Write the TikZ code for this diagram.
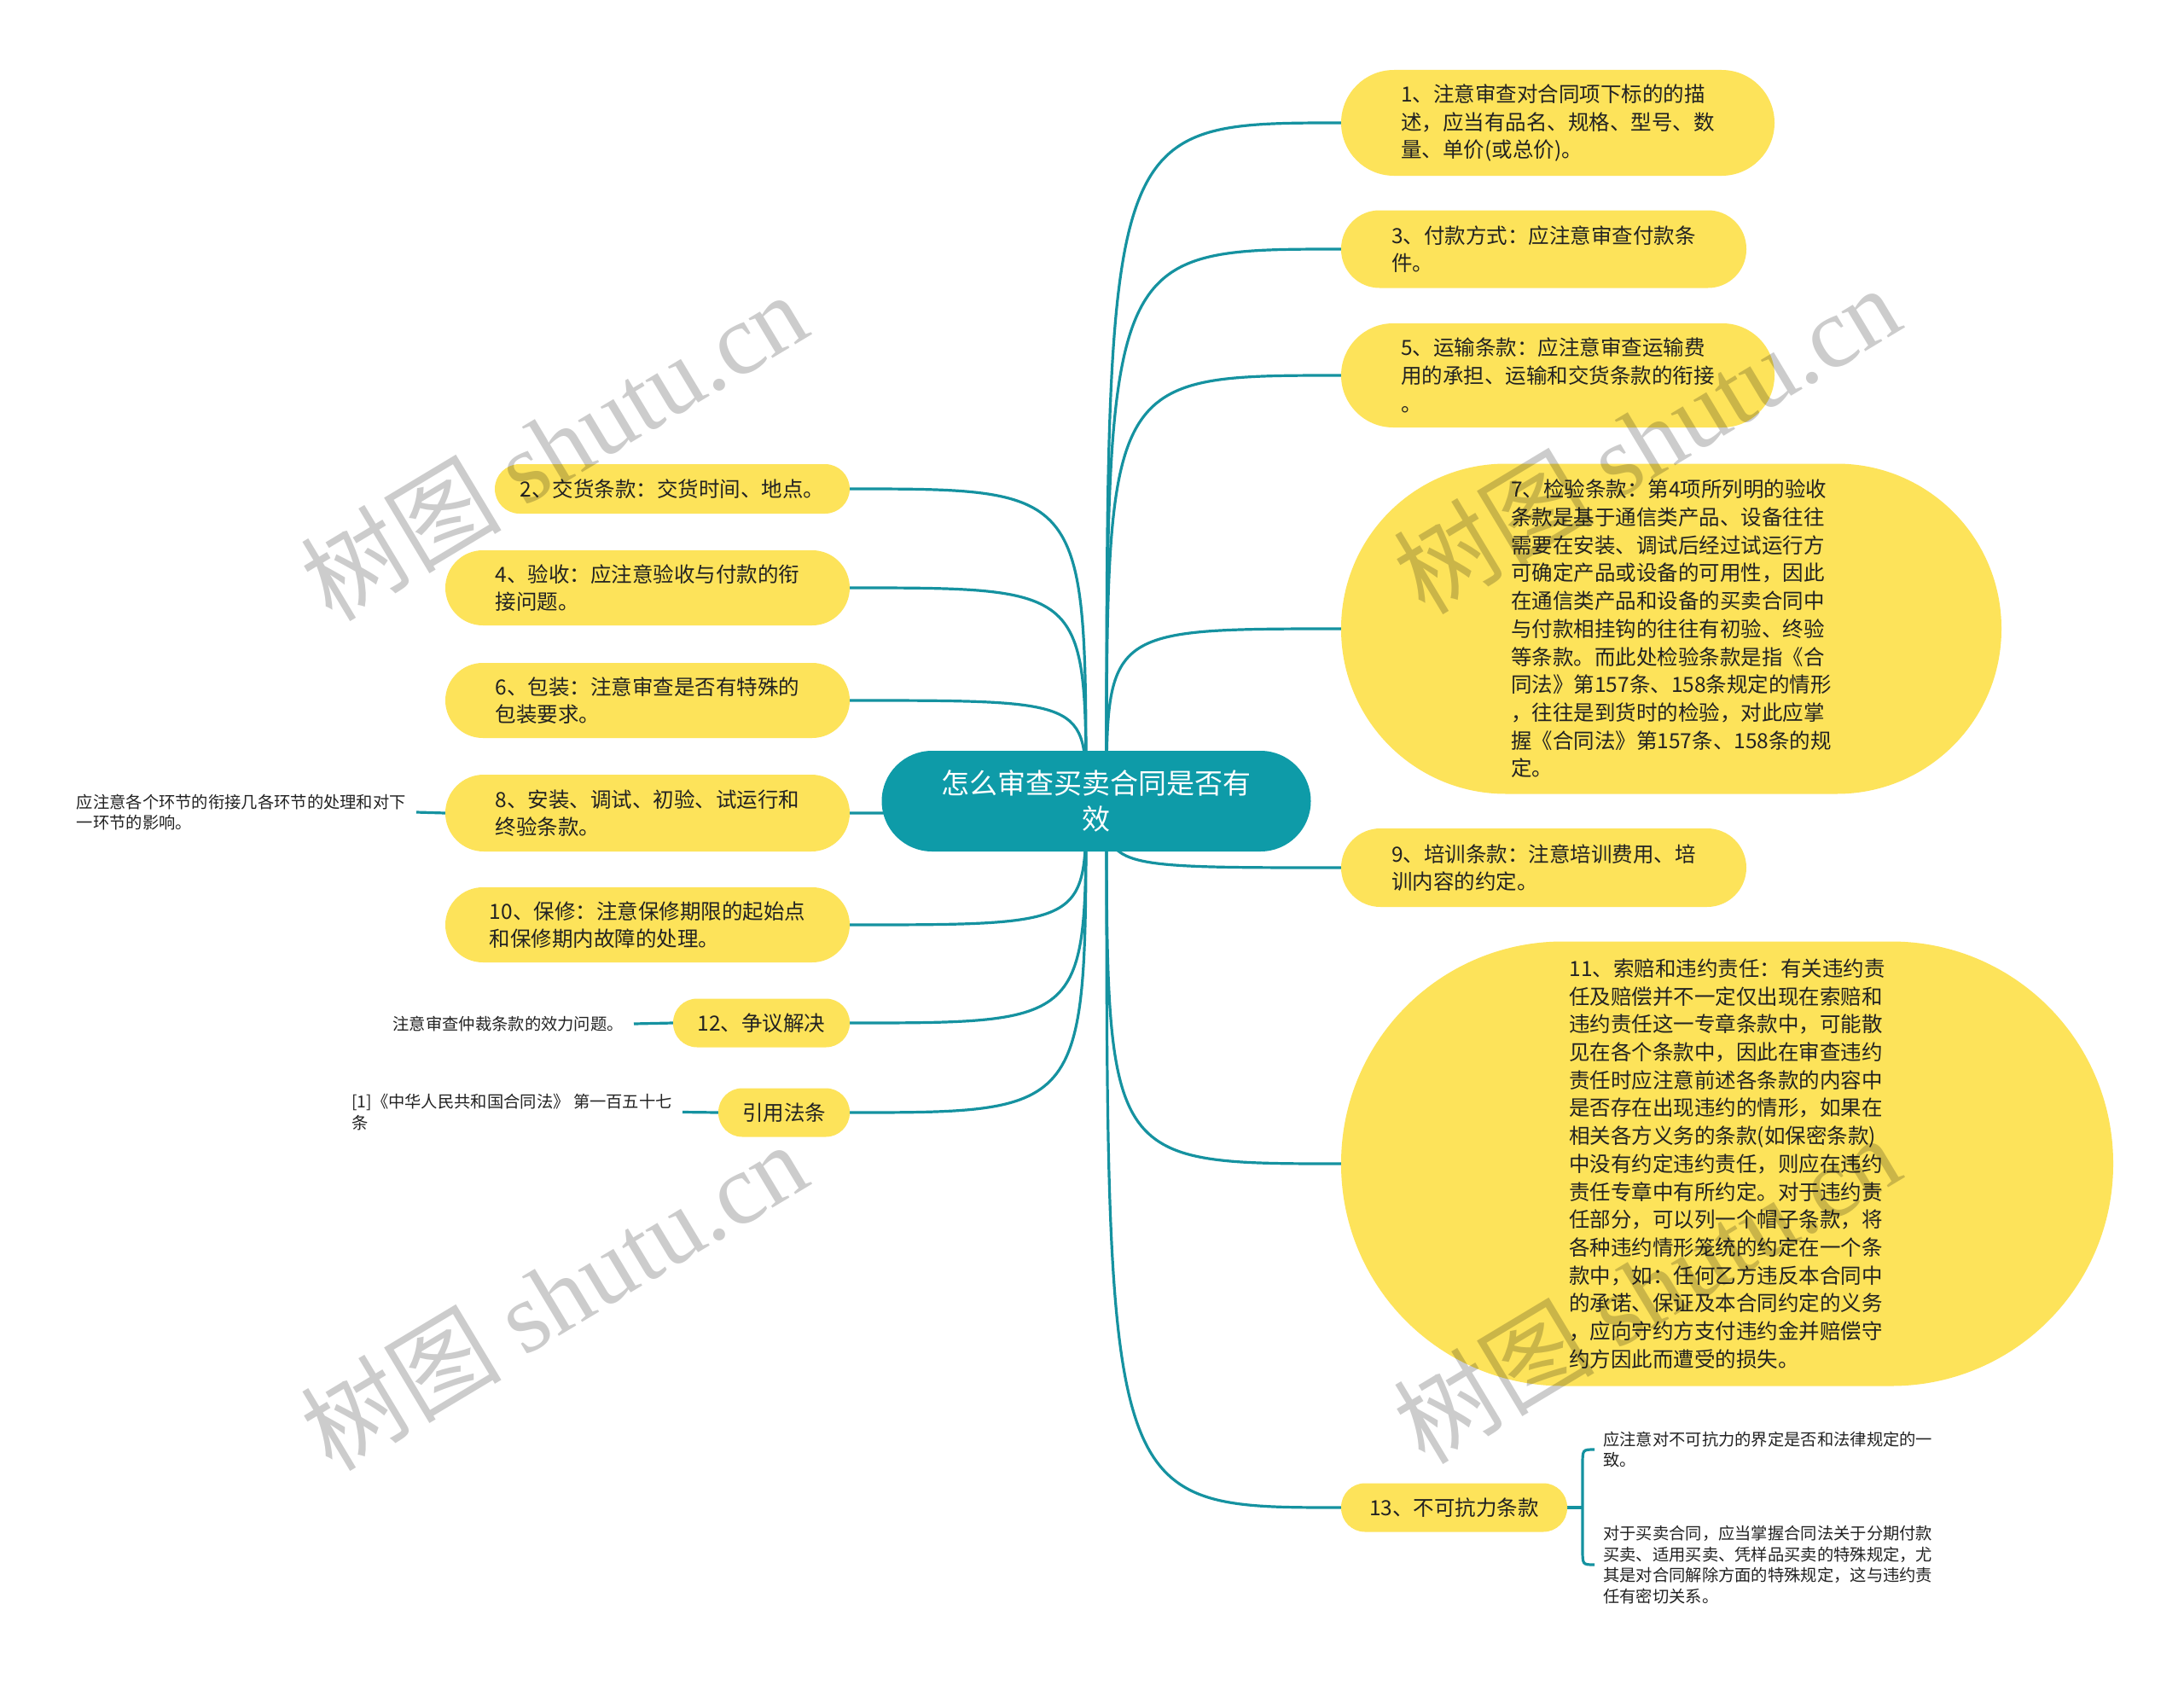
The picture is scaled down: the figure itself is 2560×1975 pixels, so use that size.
\documentclass[tikz,border=0pt]{standalone}
\usepackage{fontspec}
\setmainfont{Noto Sans CJK SC}
\newfontfamily\wmlatin{Liberation Serif}
\usetikzlibrary{calc}
\definecolor{hub}{HTML}{0E9BA8}
\definecolor{wire}{HTML}{1592A0}
\definecolor{yel}{HTML}{FDE35A}
\definecolor{ink}{HTML}{222222}
\pgfdeclarelayer{bg}
\pgfdeclarelayer{fg}
\pgfsetlayers{bg,main,fg}
\tikzset{
  conn/.style={draw=wire, line width=3.2pt},
  hubnode/.style={fill=hub, text=white, font=\fontsize{33}{42}\selectfont, align=center,
    inner sep=0pt, minimum width=503pt, minimum height=118pt, rounded corners=59pt},
  ynode/.style={fill=yel, text=ink, font=\fontsize{24.5}{32.7}\selectfont, align=left, inner sep=0pt},
  box/.style n args={3}{minimum width=#1pt, minimum height=#2pt, rounded corners=#3pt},
  leaf/.style={text=ink, font=\fontsize{19.3}{24.5}\selectfont, align=left, inner xsep=12pt, inner ysep=0pt},
  wm/.style={text=black, opacity=0.2, rotate=31, inner sep=0pt, font=\fontsize{118}{118}\selectfont},
}
\begin{document}
\begin{tikzpicture}[x=1pt,y=-1pt]
\useasboundingbox (0,0) rectangle (2560,1975);

% centre
\node[hubnode] (c) at (1285,939) {怎么审查买卖合同是否有\\效};
\coordinate (cr) at (1297,939);
\coordinate (cl) at (1273,939);

% right side
\node[ynode, box={508}{124}{62}] (n1) at (1826,144) {1、注意审查对合同项下标的的描\\述，应当有品名、规格、型号、数\\量、单价(或总价)。};
\node[ynode, box={475}{91}{45}] (n3) at (1809.5,292) {3、付款方式：应注意审查付款条\\件。};
\node[ynode, box={508}{122}{61}] (n5) at (1826,440) {5、运输条款：应注意审查运输费\\用的承担、运输和交货条款的衔接\\。};
\node[ynode, box={774}{387}{193}] (n7) at (1959,737) {7、检验条款：第4项所列明的验收\\条款是基于通信类产品、设备往往\\需要在安装、调试后经过试运行方\\可确定产品或设备的可用性，因此\\在通信类产品和设备的买卖合同中\\与付款相挂钩的往往有初验、终验\\等条款。而此处检验条款是指《合\\同法》第157条、158条规定的情形\\，往往是到货时的检验，对此应掌\\握《合同法》第157条、158条的规\\定。};
\node[ynode, box={475}{92}{46}] (n9) at (1809.5,1017) {9、培训条款：注意培训费用、培\\训内容的约定。};
\node[ynode, box={905}{521}{260}] (n11) at (2024.5,1364) {11、索赔和违约责任：有关违约责\\任及赔偿并不一定仅出现在索赔和\\违约责任这一专章条款中，可能散\\见在各个条款中，因此在审查违约\\责任时应注意前述各条款的内容中\\是否存在出现违约的情形，如果在\\相关各方义务的条款(如保密条款)\\中没有约定违约责任，则应在违约\\责任专章中有所约定。对于违约责\\任部分，可以列一个帽子条款，将\\各种违约情形笼统的约定在一个条\\款中，如：任何乙方违反本合同中\\的承诺、保证及本合同约定的义务\\，应向守约方支付违约金并赔偿守\\约方因此而遭受的损失。};
\node[ynode, box={265}{57}{28}] (n13) at (1704.5,1767) {13、不可抗力条款};

% left side
\node[ynode, box={416}{58}{29}] (n2) at (788,573) {2、交货条款：交货时间、地点。};
\node[ynode, box={474}{88}{44}] (n4) at (759,689) {4、验收：应注意验收与付款的衔\\接问题。};
\node[ynode, box={474}{88}{44}] (n6) at (759,821) {6、包装：注意审查是否有特殊的\\包装要求。};
\node[ynode, box={474}{90}{45}] (n8) at (759,953) {8、安装、调试、初验、试运行和\\终验条款。};
\node[ynode, box={474}{88}{44}] (n10) at (759,1084) {10、保修：注意保修期限的起始点\\和保修期内故障的处理。};
\node[ynode, box={207}{57}{28}] (n12) at (892.5,1199) {12、争议解决};
\node[ynode, box={154}{57}{28}] (nref) at (919,1304) {引用法条};

% leaves
\node[leaf, anchor=east] (c8) at (488,952) {应注意各个环节的衔接几各环节的处理和对下\\一环节的影响。};
\node[leaf, anchor=east] (c12) at (743,1200) {注意审查仲裁条款的效力问题。};
\node[leaf, anchor=east] (cref) at (800,1303.5) {[1]《中华人民共和国合同法》 第一百五十七\\条};
\node[leaf, anchor=west, inner xsep=10pt] (c13a) at (1869,1699) {应注意对不可抗力的界定是否和法律规定的一\\致。};
\node[leaf, anchor=west, inner xsep=10pt] (c13b) at (1869,1834) {对于买卖合同，应当掌握合同法关于分期付款\\买卖、适用买卖、凭样品买卖的特殊规定，尤\\其是对合同解除方面的特殊规定，这与违约责\\任有密切关系。};
\coordinate (bj) at (1855,1767);

\begin{pgfonlayer}{bg}
\fill[white] (0,0) rectangle (2560,1975);
\foreach \n in {n1,n3,n5,n7,n9,n11,n13}
  \draw[conn] (cr) .. controls (cr |- \n.west) .. (\n.west);
\foreach \n in {n2,n4,n6,n8,n10,n12,nref}
  \draw[conn] (cl) .. controls (cl |- \n.east) .. (\n.east);
\draw[conn] (n8.west) -- (c8.east);
\draw[conn] (n12.west) -- (c12.east);
\draw[conn] (nref.west) -- (cref.east);
\draw[conn] (n13.east) -- (bj);
\draw[conn] (c13a.west) .. controls (bj |- c13a.west) .. ($(bj |- c13a.west)+(0,18)$)
  -- ($(bj |- c13b.west)+(0,-18)$) .. controls (bj |- c13b.west) .. (c13b.west);
\end{pgfonlayer}

% watermarks
\begin{pgfonlayer}{fg}
\node[wm] (w1) at (649,522) {树图 {\wmlatin shutu.cn}};
\node[wm] (w2) at (649,1518) {树图 {\wmlatin shutu.cn}};
\node[wm] (w3) at (1930,514) {树图 {\wmlatin shutu.cn}};
\node[wm] (w4) at (1930,1510) {树图 {\wmlatin shutu.cn}};
\end{pgfonlayer}
\end{tikzpicture}
\end{document}
